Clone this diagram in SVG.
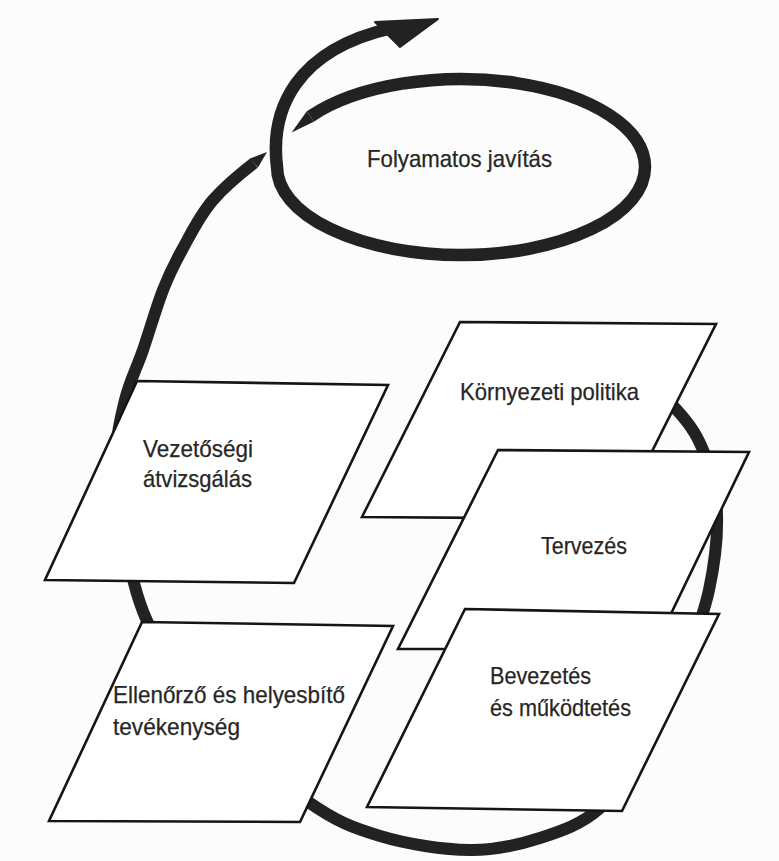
<svg xmlns="http://www.w3.org/2000/svg" width="779" height="861" viewBox="0 0 779 861">
<defs>
<style>
.loop{fill:none;stroke:#222;stroke-linecap:butt;stroke-linejoin:round}
.taper{fill:#222;stroke:none}
.box{fill:#fff;stroke:#151515;stroke-width:2.6;stroke-linejoin:miter}
.lbl{font-family:"Liberation Sans",Arial,sans-serif;font-size:24px;fill:#262626;stroke:#262626;stroke-width:0.25}
</style>
</defs>
<rect x="0" y="0" width="779" height="861" fill="#fcfcfc"/>
<g id="connectors">
<path id="big-loop" class="loop" stroke-width="12" d="M610,352 C621,361.5 660.2,391.8 676,409 C691.8,426.2 698.2,437.3 705,455 C711.8,472.7 716.3,492.5 717,515 C717.7,537.5 714.2,565.8 709,590 C703.8,614.2 695.8,635 686,660 C676.2,685 664.3,715.3 650,740 C635.7,764.7 618.3,791.7 600,808 C581.7,824.3 561.7,831 540,838 C518.3,845 496.7,850.3 470,850 C443.3,849.7 407.2,844.2 380,836 C352.8,827.8 337,822 307,801 C277,780 226.7,740 200,710 C173.3,680 159.5,649.3 147,621 C134.5,592.7 130.2,566.8 125,540 C119.8,513.2 116,483.3 116,460 C116,436.7 120.5,418.3 125,400 C129.5,381.7 136.7,368.3 143,350 C149.3,331.7 156.5,306.7 163,290 C169.5,273.3 173.7,265 182,250 C190.3,235 199.3,215.8 213,200 C226.7,184.2 245,170 254,163"/>
<polygon class="taper" points="250,158.5 258,167.5 267,152"/>
<polygon class="taper" points="291.6,132.6 306.8,111.3 313.8,121.7"/>
<path id="improvement-spiral" class="loop" stroke-width="12.5" d="M310.3,116.5 A184,88 0 0 1 645,167 A184,88 0 0 1 461,255 A184,88 0 0 1 277,167 C270,110 295,50 392,28"/>
<polygon id="arrowhead" points="375,22 438,19 400,47" fill="#222" stroke="#222" stroke-width="2" stroke-linejoin="round"/>
</g>
<g id="node-folyamatos">
<text class="lbl" x="367" y="167" textLength="185" lengthAdjust="spacingAndGlyphs">Folyamatos javítás</text>
</g>
<g id="node-kornyezeti">
<polygon class="box" points="460,322 716,324 618,519 362,517"/>
<text class="lbl" x="460" y="400" textLength="179" lengthAdjust="spacingAndGlyphs">Környezeti politika</text>
</g>
<g id="node-tervezes">
<polygon class="box" points="498,450 749,452 654,649 398,649"/>
<text class="lbl" x="541" y="554" textLength="86" lengthAdjust="spacingAndGlyphs">Tervezés</text>
</g>
<g id="node-bevezetes">
<polygon class="box" points="465,609 719,614 622,811 367,807"/>
<text class="lbl" x="490" y="684" textLength="101" lengthAdjust="spacingAndGlyphs">Bevezetés</text>
<text class="lbl" x="490" y="716" textLength="141" lengthAdjust="spacingAndGlyphs">és működtetés</text>
</g>
<g id="node-vezetosegi">
<polygon class="box" points="137,381 388,385 294,583 45,580"/>
<text class="lbl" x="143" y="457" textLength="110" lengthAdjust="spacingAndGlyphs">Vezetőségi</text>
<text class="lbl" x="143" y="487" textLength="109" lengthAdjust="spacingAndGlyphs">átvizsgálás</text>
</g>
<g id="node-ellenorzo">
<polygon class="box" points="142,622 393,626 300,822 49,821"/>
<text class="lbl" x="113" y="703" textLength="232" lengthAdjust="spacingAndGlyphs">Ellenőrző és helyesbítő</text>
<text class="lbl" x="113" y="735" textLength="127" lengthAdjust="spacingAndGlyphs">tevékenység</text>
</g>
</svg>
